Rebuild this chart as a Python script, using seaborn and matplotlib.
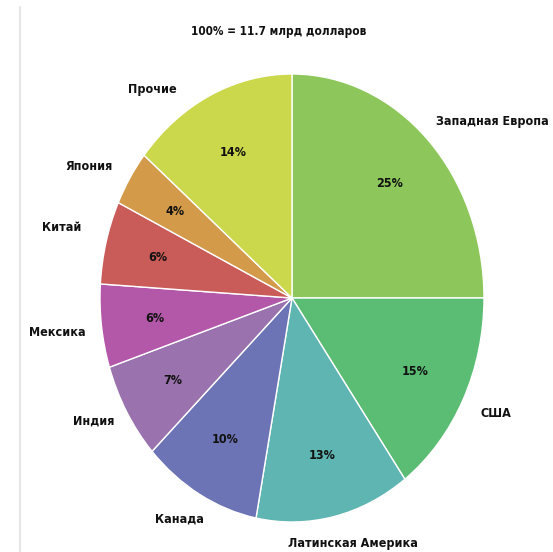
import numpy as np
import matplotlib
matplotlib.use("Agg")
import matplotlib.pyplot as plt
import seaborn as sns
from matplotlib import font_manager

regions = ["Западная Европа", "США", "Латинская Америка", "Канада", "Индия",
           "Мексика", "Китай", "Япония", "Прочие"]
shares = [25, 15, 13, 10, 7, 6, 6, 4, 14]
pct_labels = ["25%", "15%", "13%", "10%", "7%", "6%", "6%", "4%", "14%"]
title_text = "100% = 11.7 млрд долларов"

colors = ["#8dc75b", "#5bbd74", "#5fb5b2", "#6c74b5", "#9a72ae",
          "#b357a8", "#c95b58", "#d39b49", "#cbd84b"]

# label placement tweaks (radius, angle offset in degrees)
label_r = [1.31, 1.18, 1.14, 1.15, 1.17, 1.23, 1.24, 1.21, 1.18]
label_da = [-8, 1, 3.6, -2, -2.5, 0, -0.2, 3.3, 12.8]

sns.set_theme(style="white")
cond = [f for f in font_manager.fontManager.ttflist
        if "condensed" in str(f.stretch).lower() or "Condensed" in f.fname or "Narrow" in f.name]
cond_bold = [f for f in cond if f.weight in ("bold", 700) or "Bold" in f.fname]
if cond_bold:
    fp = font_manager.FontProperties(fname=cond_bold[0].fname, size=9)
    fp_title = font_manager.FontProperties(fname=cond_bold[0].fname, size=8.5)
else:
    fp = font_manager.FontProperties(family="Liberation Sans", weight="bold", size=8.5)
    fp_title = font_manager.FontProperties(family="Liberation Sans", weight="bold", size=8)

fig = plt.figure(figsize=(5.53, 5.52), dpi=100)
ax = fig.add_axes([0, 0, 1, 1])

wedges, texts, autotexts = ax.pie(
    shares, labels=regions, colors=colors, startangle=90, counterclock=False,
    autopct=lambda p: f"{p:.0f}%", pctdistance=0.72, labeldistance=1.2,
    wedgeprops=dict(edgecolor="white", linewidth=1.0),
    textprops=dict(color="#111111"))

for w, t, r, da in zip(wedges, texts, label_r, label_da):
    mid = np.deg2rad((w.theta1 + w.theta2) / 2 + da)
    t.set_position((r * np.cos(mid), r * np.sin(mid)))
    t.set_ha("center")
    t.set_va("center")
    t.set_fontproperties(fp)
for a, s in zip(autotexts, pct_labels):
    a.set_text(s)
    a.set_fontproperties(fp)

ax.set_aspect("auto")
ax.set_xlim(-292 / 192, (553 - 292) / 192)
ax.set_ylim(-254 / 224, 298 / 224)
ax.axis("off")

fig.text(279 / 553, 1 - 32 / 552, title_text, ha="center", va="center",
         fontproperties=fp_title, color="#111111")
fig.add_artist(plt.Line2D([20 / 553, 20 / 553], [0, 1 - 7 / 552],
                          transform=fig.transFigure, color="#e6e6e6", lw=1.5))

fig.savefig("out.png", dpi=100, facecolor="white")
